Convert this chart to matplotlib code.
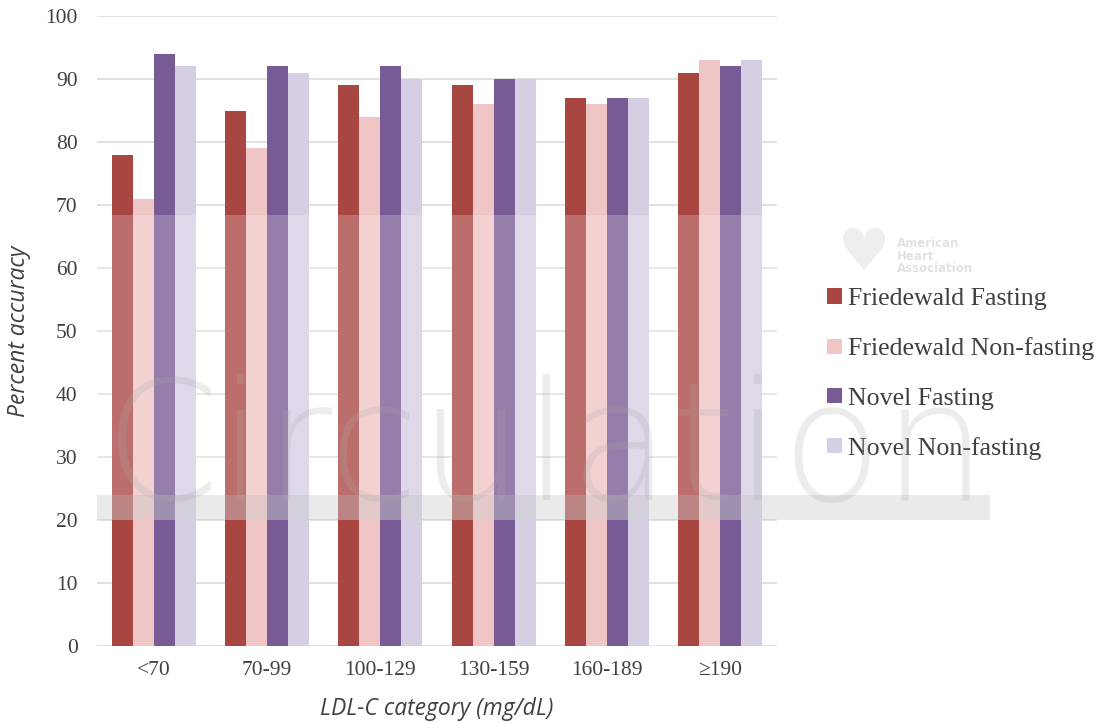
import matplotlib as mpl
import matplotlib.pyplot as plt
import numpy as np
from matplotlib.patches import Rectangle

mpl.rcParams['font.family'] = 'serif'
mpl.rcParams['font.serif'] = ['Liberation Serif', 'DejaVu Serif']

categories = ["<70", "70-99", "100-129", "130-159", "160-189", "\u2265190"]
series_names = ["Friedewald Fasting", "Friedewald Non-fasting",
                "Novel Fasting", "Novel Non-fasting"]
friedewald_fasting = [78, 85, 89, 89, 87, 91]
friedewald_nonfasting = [71, 79, 84, 86, 86, 93]
novel_fasting = [94, 92, 92, 90, 87, 92]
novel_nonfasting = [92, 91, 90, 90, 87, 93]

series = [friedewald_fasting, friedewald_nonfasting, novel_fasting, novel_nonfasting]
bar_colors = ['#A84642', '#F0C5C5', '#785B94', '#D6CEE3']

fig = plt.figure(figsize=(11.04, 7.23), dpi=100)
ax = fig.add_axes([97 / 1104, 1 - 646 / 723, 680 / 1104, 630 / 723])

x = np.arange(len(categories))
width = 0.185
for i, (vals, name) in enumerate(zip(series, series_names)):
    ax.bar(x + (i - 1.5) * width, vals, width, color=bar_colors[i], label=name, zorder=2)

ax.set_xlim(-0.5, len(categories) - 0.5)
ax.set_ylim(0, 100)
ax.set_yticks(range(0, 101, 10))
ax.set_xticks(x)
ax.set_xticklabels(categories)
ax.yaxis.grid(True, color='#D9D9D9', linewidth=1.1, zorder=0)
ax.set_axisbelow(True)
for s in ['top', 'right', 'left', 'bottom']:
    ax.spines[s].set_visible(False)
ax.tick_params(axis='both', length=0, labelsize=15.5, colors='#404040')
ax.tick_params(axis='y', pad=14)
ax.tick_params(axis='x', pad=11)

ax.set_ylabel("Percent accuracy", fontsize=16.5, style='italic', family='Open Sans',
              color='#404040', labelpad=10)
ax.set_xlabel("LDL-C category (mg/dL)", fontsize=16.5, style='italic', family='Open Sans',
              color='#404040', labelpad=12)

leg = fig.legend(loc='upper left', bbox_to_anchor=(817 / 1104, 1 - 278 / 723),
                 frameon=False, fontsize=18.6, handlelength=0.55, handleheight=0.55,
                 handletextpad=0.25, labelspacing=1.05, borderaxespad=0)
for t in leg.get_texts():
    t.set_color('#404040')

# journal watermark
fig.patches.append(Rectangle((97 / 1104, 1 - 520 / 723), 893 / 1104, 305 / 723,
                             transform=fig.transFigure, facecolor='white',
                             alpha=0.22, edgecolor='none', zorder=5))
fig.patches.append(Rectangle((97 / 1104, 1 - 520 / 723), 893 / 1104, 25 / 723,
                             transform=fig.transFigure, facecolor='#BBBBBB',
                             alpha=0.3, edgecolor='none', zorder=6))
fig.text(545 / 1104, 1 - 500 / 723, "Circulation", fontsize=119, family='DejaVu Sans',
         fontweight='light', color='#AAAAAA', alpha=0.22, ha='center', va='baseline',
         zorder=7)
fig.text(897 / 1104, 1 - 256 / 723, "American\nHeart\nAssociation", fontsize=8.5,
         family='DejaVu Sans', color='#E2E2E2', ha='left', va='center',
         linespacing=0.95, fontweight='bold', zorder=7)
fig.text(864 / 1104, 1 - 254 / 723, "\u2665", fontsize=42, family='DejaVu Sans',
         color='#EEEEEE', ha='center', va='center', zorder=6)

plt.savefig("out.png", dpi=100)
